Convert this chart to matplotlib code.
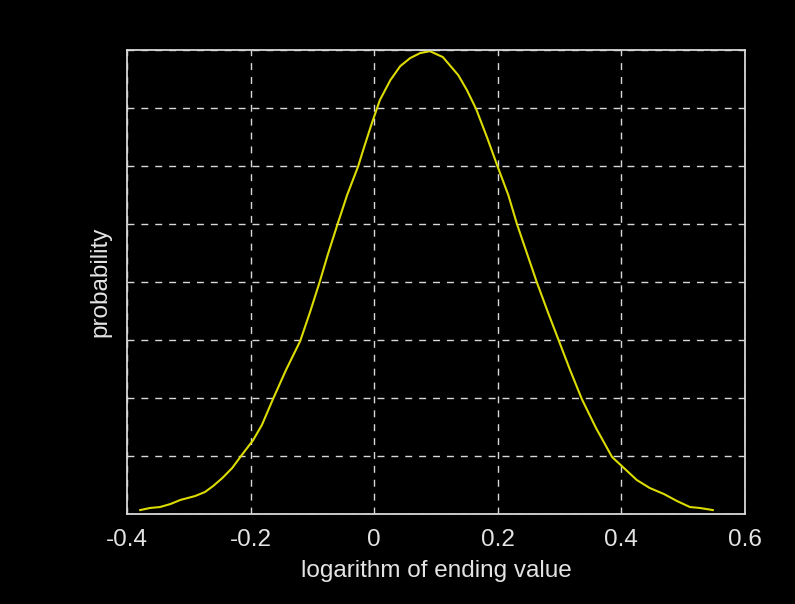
import matplotlib
matplotlib.use('Agg')

import matplotlib.pyplot as plt

#*************data************
log_value = [-0.379, -0.363, -0.347, -0.330, -0.314, -0.290, -0.274, -0.261, -0.246, -0.230,
             -0.217, -0.196, -0.182, -0.164, -0.143, -0.120, -0.104, -0.089, -0.075, -0.060,
             -0.044, -0.026, -0.018, -0.005, 0.009, 0.026, 0.042, 0.058, 0.074, 0.090,
             0.111, 0.136, 0.150, 0.165, 0.183, 0.200, 0.217, 0.231, 0.247, 0.263,
             0.281, 0.299, 0.317, 0.336, 0.359, 0.385, 0.399, 0.425, 0.446, 0.469,
             0.490, 0.511, 0.527, 0.548]
prob      = [0.034, 0.052, 0.060, 0.086, 0.121, 0.155, 0.190, 0.241, 0.310, 0.397,
             0.491, 0.638, 0.767, 0.991, 1.241, 1.491, 1.741, 1.991, 2.241, 2.491,
             2.750, 3.000, 3.138, 3.353, 3.569, 3.741, 3.862, 3.931, 3.974, 3.991,
             3.940, 3.784, 3.655, 3.491, 3.241, 2.991, 2.750, 2.500, 2.250, 2.000,
             1.741, 1.491, 1.241, 0.991, 0.741, 0.491, 0.422, 0.293, 0.224, 0.172,
             0.112, 0.060, 0.052, 0.034]

x_ticks = [-0.4, -0.2, 0, 0.2, 0.4, 0.6]
x_labels = ['-0.4', '-0.2', '0', '0.2', '0.4', '0.6']
y_ticks = [0, 0.5, 1, 1.5, 2, 2.5, 3, 3.5, 4]

#******************************************PLOT*********************************************
plt.rcParams['font.family'] = ['Liberation Sans', 'DejaVu Sans']
plt.rcParams['lines.scale_dashes'] = False

fg = '#e4e4e4'
fig = plt.figure(figsize=(7.95, 6.04), dpi=100, facecolor='black')
ax = fig.add_axes([0.160, 0.149, 0.777, 0.768])
ax.set_facecolor('black')
ax.set_axisbelow(True)

ax.plot(log_value, prob, color='#dcdc00', linewidth=1.5)

ax.set_xlim(-0.4, 0.6)
ax.set_ylim(0, 4)
ax.set_xticks(x_ticks)
ax.set_xticklabels(x_labels)
ax.set_yticks(y_ticks)
ax.set_yticklabels([])
ax.tick_params(axis='x', length=0, labelsize=17.5, labelcolor=fg, pad=11)
ax.tick_params(axis='y', length=0, pad=1)
ax.grid(True, color='#d8d8d8', linestyle=(0, (5, 5)), linewidth=1.0)

for s in ax.spines.values():
    s.set_color('#d8d8d8')
    s.set_linewidth(1.3)
    s.set_zorder(5)

ax.set_xlabel('logarithm of ending value', fontsize=17.5, color=fg, labelpad=6)
ax.set_ylabel('probability', fontsize=17.5, color=fg, labelpad=10)

plt.savefig('out.png', dpi=100, facecolor='black')
